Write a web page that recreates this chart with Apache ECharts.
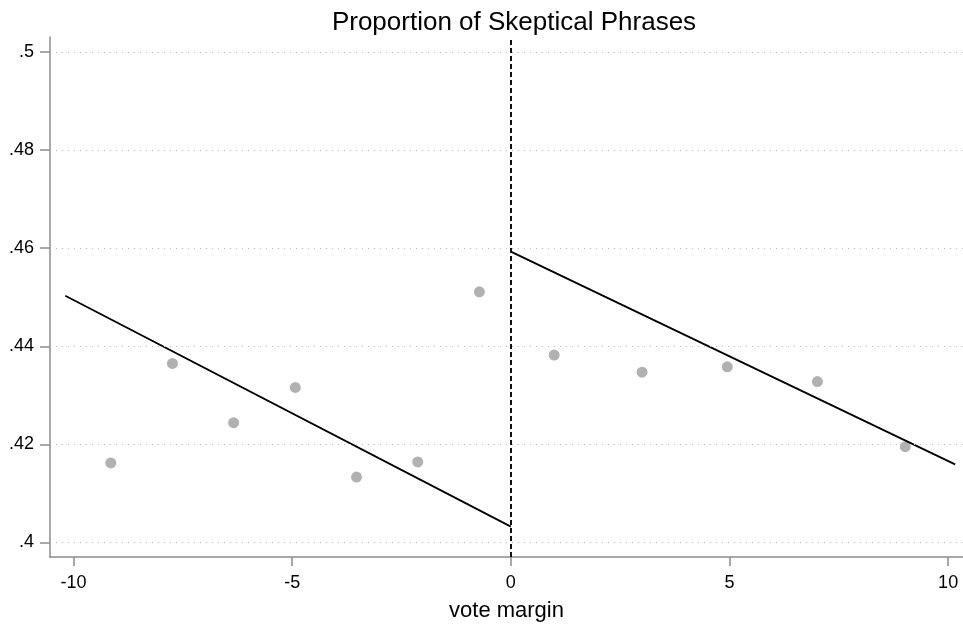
<!DOCTYPE html>
<html>
<head>
<meta charset="utf-8">
<script src="https://cdn.jsdelivr.net/npm/echarts@6/dist/echarts.min.js"></script>
<style>html,body{margin:0;padding:0;background:#fff}#c{width:963px;height:627px}</style>
</head>
<body>
<div id="c"></div>
<script>
const titleText = "Proportion of Skeptical Phrases";
const xName = "vote margin";
const xTicks = [-10, -5, 0, 5, 10];
const yTicks = [0.4, 0.42, 0.44, 0.46, 0.48, 0.5];
const leftX = [-9.15, -7.74, -6.34, -4.93, -3.53, -2.13, -0.72];
const leftY = [0.4162, 0.4365, 0.4244, 0.4316, 0.4133, 0.4164, 0.4511];
const rightX = [0.99, 3.0, 4.95, 7.01, 9.02];
const rightY = [0.4382, 0.4347, 0.4358, 0.4328, 0.4195];
const leftFitX = [-10.19, 0];
const leftFitY = [0.4503, 0.4032];
const rightFitX = [0, 10.16];
const rightFitY = [0.4593, 0.4159];
const cutoff = 0;

const FONT = "'Liberation Sans', Arial, sans-serif";
const zip = (a, b) => a.map((v, i) => [v, b[i]]);
const fmtY = v => { let s = String(+v.toFixed(2)); return s.replace(/^0/, ''); };

const chart = echarts.init(document.getElementById('c'), null, {renderer: 'canvas'});
chart.setOption({
  animation: false,
  backgroundColor: '#fff',
  title: {
    text: titleText, left: 509, top: 5, textAlign: 'center',
    textStyle: {fontFamily: FONT, fontSize: 26, fontWeight: 'normal', color: '#000'}
  },
  grid: {left: 50, right: 0, top: 37, bottom: 70, containLabel: false},
  xAxis: {
    type: 'value', min: -10.54, max: 10.34,
    name: xName, nameLocation: 'middle', nameGap: 43,
    nameTextStyle: {fontFamily: FONT, fontSize: 22, color: '#000'},
    axisLine: {show: true, onZero: false, lineStyle: {color: '#8c8c8c', width: 1.5}},
    axisTick: {show: true, inside: false, length: 9, customValues: xTicks, lineStyle: {color: '#8c8c8c', width: 1.5}},
    axisLabel: {customValues: xTicks, margin: 17, fontFamily: FONT, fontSize: 18, color: '#000',
      formatter: v => String(v)},
    splitLine: {show: false}
  },
  yAxis: {
    type: 'value', min: 0.397, max: 0.5031,
    axisLine: {show: true, onZero: false, lineStyle: {color: '#8c8c8c', width: 1.5}},
    axisTick: {show: true, inside: false, length: 10, customValues: yTicks, lineStyle: {color: '#8c8c8c', width: 1.5}},
    axisLabel: {customValues: yTicks, margin: 16, fontFamily: FONT, fontSize: 18, color: '#000', formatter: fmtY},
    splitLine: {show: false}
  },
  series: [
    {
      type: 'line', data: [], silent: true,
      markLine: {
        silent: true, symbol: ['none', 'none'], label: {show: false},
        lineStyle: {color: '#bdbdbd', width: 1, type: [1, 5]},
        data: yTicks.map(v => ({yAxis: v}))
      }
    },
    {
      type: 'line', data: [], silent: true,
      markLine: {
        silent: true, symbol: ['none', 'none'], label: {show: false},
        lineStyle: {color: '#111', width: 2, type: [5, 3]},
        data: [{xAxis: cutoff}]
      }
    },
    {type: 'scatter', data: zip(leftX, leftY), symbol: 'circle', symbolSize: 11, itemStyle: {color: '#9e9e9e'}},
    {type: 'scatter', data: zip(rightX, rightY), symbol: 'circle', symbolSize: 11, itemStyle: {color: '#9e9e9e'}},
    {type: 'line', data: zip(leftFitX, leftFitY), showSymbol: false, lineStyle: {color: '#000', width: 1.8}},
    {type: 'line', data: zip(rightFitX, rightFitY), showSymbol: false, lineStyle: {color: '#000', width: 1.8}}
  ]
});
</script>
</body>
</html>
